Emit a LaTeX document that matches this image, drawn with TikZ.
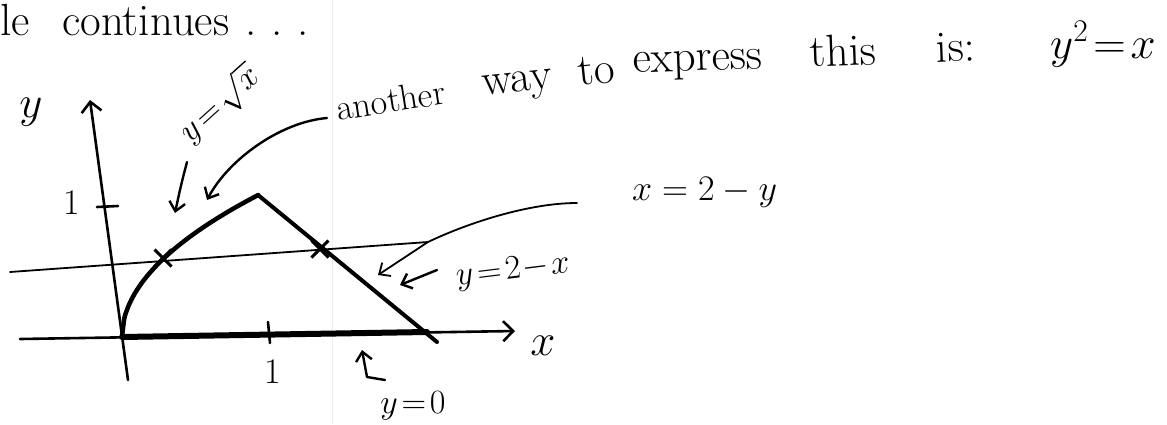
\RequirePackage{fix-cm}
\documentclass[tikz,border=0pt]{standalone}
\usetikzlibrary{arrows.meta,shapes.misc}
\begin{document}
\begin{tikzpicture}[x=1pt,y=-1pt,
  ink/.style={line cap=round,line join=round,draw=black},
  tipb/.style={-{Straight Barb[length=9pt,width=16pt]}},
  axis/.style={ink,line width=2.6pt,-{Straight Barb[length=10pt,width=20pt]}},
  big/.style={inner sep=0pt,font=\fontsize{45}{52}\selectfont},
  mid/.style={inner sep=0pt,font=\fontsize{36}{42}\selectfont},
  small/.style={inner sep=0pt,font=\fontsize{34}{40}\selectfont}
]
\useasboundingbox (0,0) rectangle (1167,424);
% faint scan fold
\draw[black!7,line width=1pt] (332,0) -- (332,424);

% top text
\node[big,anchor=base west] (le) at (0,35) {le};
\node[big,anchor=base west] (cont) at (62,35) {continues};
\node[big,anchor=base west] (dots) at (245,35) {.\,\,.\,\,.};

\node[mid,anchor=base west,rotate=9] (w1) at (338,121) {another};
\node[big,anchor=base west,rotate=6] (w2) at (483,96) {way\hspace{27pt}to};
\node[big,anchor=base west,rotate=2] (w4) at (633,73) {express\hspace{48pt}this\hspace{60pt}is:};
\node[big,anchor=base west] (w7) at (1050,58) {$y^2\!=\!x$};

\node[mid,anchor=base west] (eqx) at (632,200) {$x=2-y$};

% coordinates
\coordinate (O) at (122,337);
\coordinate (P) at (258,195);
\coordinate (B) at (427,332);
\coordinate (E) at (437,342);
\coordinate (ybot) at (128,380);
\coordinate (ytop) at (90,100);
\coordinate (xl) at (20,339);
\coordinate (xr) at (515,331);
\coordinate (L) at (10,272);
\coordinate (H) at (428,242);

% axes
\draw[axis] (ybot) -- (ytop);
\draw[axis] (xl) -- (xr);
\draw[ink,line width=2.6pt] (97,207) -- (118,206);
\draw[ink,line width=2.6pt] (268,322) -- (270,343);

% labels on axes
\node[big,anchor=center] (ylab) at (31,112) {$y$};
\node[mid,anchor=center] (y1) at (72,203) {1};
\node[big,anchor=center] (xlab) at (543,346) {$x$};
\node[mid,anchor=center] (x1) at (273,372) {1};

% region boundary
\draw[ink,line width=6pt] (O) -- (B);
\draw[ink,line width=4.5pt] plot[domain=0:0.933,samples=60,smooth] ({122+146*\x},{337-147*sqrt(\x)});
\draw[ink,line width=4pt] (P) -- (E);

% horizontal line and its bend
\draw[ink,line width=1.8pt] (L) -- (H);
\draw[ink,line width=1.8pt,tipb] (577,203) .. controls (530,203) and (470,222) .. (H) -- (378,275);

% crosses
\node[cross out,draw,line width=3pt,minimum size=14pt,inner sep=0pt] (k1) at (163,258) {};
\node[cross out,draw,line width=3pt,minimum size=14pt,inner sep=0pt] (k2) at (320,249) {};

% label y = 2 - x with arrow
\node[small,anchor=base west,rotate=7] (l2x) at (457,286) {$y\!=\!2\!-\!x$};
\draw[ink,line width=2.4pt,tipb] (437,270) -- (400,285);

% label y = sqrt x with arrow
\node[small,anchor=base west,rotate=42] (lsq) at (190,144) {$y\!=\!\sqrt{x}$};
\draw[ink,line width=2.4pt,tipb] (187,162) .. controls (181,185) .. (175,213);

% another-way arrow
\draw[ink,line width=2.4pt,tipb] (327,118) .. controls (280,122) and (228,160) .. (207,200);

% y = 0 label with hook arrow
\node[small,anchor=center] (l0) at (413,406) {$y\!=\!0$};
\draw[ink,line width=2.4pt,tipb] (385,380) -- (367,377) -- (362,350);
\end{tikzpicture}
\end{document}
